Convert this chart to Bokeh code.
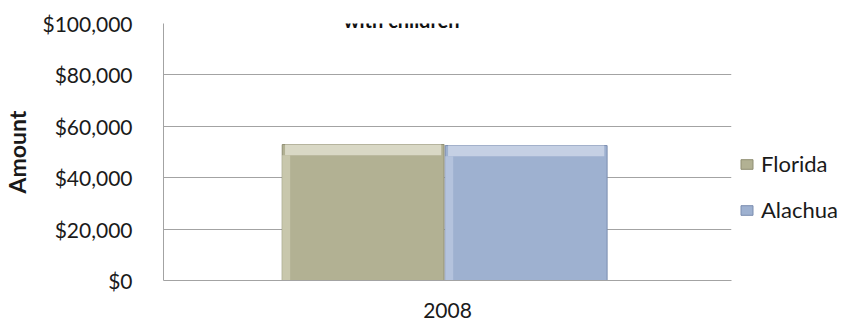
from bokeh.plotting import figure
from bokeh.models import (ColumnDataSource, FactorRange, Range1d, NumeralTickFormatter,
                          FixedTicker, Legend, LegendItem, Label)
from bokeh.transform import dodge
from bokeh.embed import file_html
from bokeh.resources import INLINE

# ---- data ----
years = ["2008"]
florida = [52900]
alachua = [52500]
series = ["Florida", "Alachua"]
y_ticks = [0, 20000, 40000, 60000, 80000, 100000]
title_text = "with children"
y_label = "Amount"

FONT = "Lato"
GRID = "#a3a3a3"

# bevel highlight band height (data units)
HI = 4200

src = ColumnDataSource(dict(
    year=years,
    florida=florida,
    alachua=alachua,
    fl_hi=[v - HI for v in florida],
    al_hi=[v - HI for v in alachua],
))

FH = 257
p = figure(x_range=FactorRange(*years), y_range=Range1d(0, 100000),
           frame_width=568, frame_height=FH,
           min_border_left=154, min_border_right=106,
           min_border_top=23, min_border_bottom=44,
           output_backend="svg", toolbar_location=None,
           background_fill_color="white", border_fill_color="white",
           outline_line_color=None)

BW = 0.285
SHIFT = -0.005
OFF = 0.1435

r_fl = p.vbar(x=dodge("year", SHIFT - OFF, range=p.x_range), top="florida", bottom=0, width=BW,
              source=src, fill_color="#b2b193", line_color="#8f8e72", line_width=1)
p.vbar(x=dodge("year", SHIFT - OFF, range=p.x_range), top="florida", bottom="fl_hi", width=BW - 0.01,
       source=src, fill_color="#d9d8c5", line_color=None)
p.vbar(x=dodge("year", SHIFT - OFF - BW / 2 + 0.007, range=p.x_range), top="fl_hi", bottom=0,
       width=0.014, source=src, fill_color="#c8c7ac", line_color=None)

r_al = p.vbar(x=dodge("year", SHIFT + OFF, range=p.x_range), top="alachua", bottom=0, width=BW,
              source=src, fill_color="#9eb1d0", line_color="#7b8daf", line_width=1)
p.vbar(x=dodge("year", SHIFT + OFF, range=p.x_range), top="alachua", bottom="al_hi", width=BW - 0.01,
       source=src, fill_color="#c5d0e4", line_color=None)
p.vbar(x=dodge("year", SHIFT + OFF - BW / 2 + 0.007, range=p.x_range), top="al_hi", bottom=0,
       width=0.014, source=src, fill_color="#b4c3dd", line_color=None)

# axes
p.yaxis.ticker = FixedTicker(ticks=y_ticks)
p.yaxis.formatter = NumeralTickFormatter(format="$0,0")
p.yaxis.major_tick_line_color = None
p.yaxis.minor_tick_line_color = None
p.yaxis.axis_line_color = GRID
p.yaxis.major_label_text_font = FONT
p.yaxis.major_label_text_font_size = "21px"
p.yaxis.major_label_text_color = "#1a1a1a"
p.yaxis.major_label_standoff = 25
p.yaxis.axis_label = y_label
p.yaxis.axis_label_text_font = FONT
p.yaxis.axis_label_text_font_size = "23px"
p.yaxis.axis_label_text_font_style = "bold"
p.yaxis.axis_label_text_color = "#1a1a1a"
p.yaxis.axis_label_standoff = 8

p.xaxis.major_tick_line_color = None
p.xaxis.minor_tick_line_color = None
p.xaxis.axis_line_color = GRID
p.xaxis.major_label_text_font = FONT
p.xaxis.major_label_text_font_size = "21px"
p.xaxis.major_label_text_color = "#1a1a1a"
p.xaxis.major_label_standoff = 16

p.xgrid.grid_line_color = None
p.ygrid.grid_line_color = GRID
p.ygrid.grid_line_width = 1

# legend (right of the plot area)
legend = Legend(items=[LegendItem(label=series[0], renderers=[r_fl]),
                       LegendItem(label=series[1], renderers=[r_al])],
                location=(8, 57), orientation="vertical",
                border_line_color=None, background_fill_alpha=0,
                padding=0, margin=0, spacing=19,
                glyph_width=15, glyph_height=12, label_standoff=7,
                label_height=24, label_text_font=FONT,
                label_text_font_size="22px", label_text_color="#1a1a1a")
p.add_layout(legend, "right")

# title (only its lower part is visible in the reference; kept whole here)
p.add_layout(Label(x=238, y=FH + 4, x_units="screen", y_units="screen", text=title_text,
                   text_align="center", text_baseline="alphabetic", text_font=FONT,
                   text_font_size="20px", text_font_style="bold", text_color="#111111"))

open("out.html", "w").write(file_html(p, INLINE))
